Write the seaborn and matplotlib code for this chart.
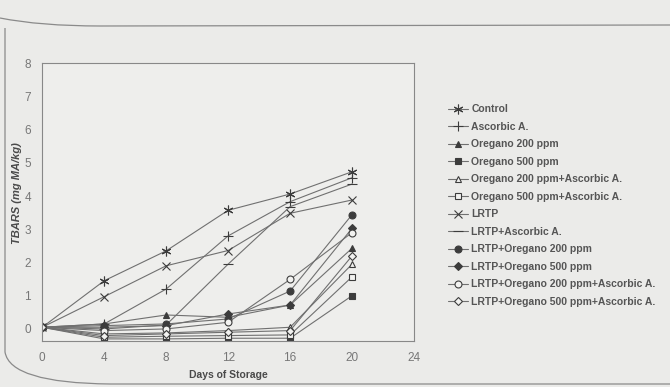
import numpy as np
import pandas as pd
import matplotlib
matplotlib.use("Agg")
import matplotlib.pyplot as plt
import seaborn as sns
from matplotlib.path import Path
from matplotlib.patches import PathPatch

sns.set_style("white")
plt.rcParams['font.family'] = ['Liberation Sans', 'DejaVu Sans']

days = [0, 4, 8, 12, 16, 20]

control = [0.05, 1.45, 2.35, 3.57, 4.06, 4.73]
ascorbic = [0.05, 0.15, 1.2, 2.8, 3.83, 4.55]
oreg200 = [0.05, 0.15, 0.42, 0.35, 0.72, 2.43]
oreg500 = [0.05, -0.3, -0.3, -0.28, -0.28, 1.0]
oreg200_aa = [0.05, -0.15, -0.12, -0.05, 0.05, 1.95]
oreg500_aa = [0.05, -0.25, -0.22, -0.2, -0.18, 1.57]
lrtp = [0.05, 0.97, 1.9, 2.36, 3.48, 3.88]
lrtp_aa = [0.05, 0.0, 0.12, 1.95, 3.68, 4.36]
lrtp_o200 = [0.05, 0.1, 0.15, 0.3, 1.14, 3.44]
lrtp_o500 = [0.05, 0.05, 0.1, 0.45, 0.72, 3.03]
lrtp_o200_aa = [0.05, -0.05, 0.0, 0.2, 1.49, 2.9]
lrtp_o500_aa = [0.05, -0.2, -0.15, -0.1, -0.05, 2.2]

names = ["Control", "Ascorbic A.", "Oregano 200 ppm", "Oregano 500 ppm",
         "Oregano 200 ppm+Ascorbic A.", "Oregano 500 ppm+Ascorbic A.",
         "LRTP", "LRTP+Ascorbic A.", "LRTP+Oregano 200 ppm",
         "LRTP+Oregano 500 ppm", "LRTP+Oregano 200 ppm+Ascorbic A.",
         "LRTP+Oregano 500 ppm+Ascorbic A."]
series = [control, ascorbic, oreg200, oreg500, oreg200_aa, oreg500_aa,
          lrtp, lrtp_aa, lrtp_o200, lrtp_o500, lrtp_o200_aa, lrtp_o500_aa]
# marker, filled?, size
styles = [((6, 2, 0), True, 7), ("+", True, 7), ("^", True, 5), ("s", True, 5),
          ("^", False, 5), ("s", False, 5), ("x", True, 6), ("_", True, 7),
          ("o", True, 5), ("D", True, 4), ("o", False, 5), ("D", False, 4)]

bg = "#ebebe9"
line_c = "#707070"
mark_c = "#3c3c3c"

fig = plt.figure(figsize=(6.7, 3.87), dpi=100, facecolor=bg)
ax = fig.add_axes([0.063, 0.12, 0.555, 0.717])
ax.set_facecolor("#eeeeec")

for name, vals, (m, filled, ms) in zip(names, series, styles):
    df = pd.DataFrame({"day": days, "tbars": vals})
    sns.lineplot(data=df, x="day", y="tbars", ax=ax, color=line_c, lw=0.8,
                 marker=m, markersize=ms, markeredgecolor=mark_c,
                 markerfacecolor=mark_c if filled else "#f2f2f0",
                 markeredgewidth=0.8, label=name)

ax.set_xlim(0, 24)
ax.set_ylim(-0.35, 8)
ax.set_xticks(range(0, 25, 4))
ax.set_yticks(range(0, 9))
ax.tick_params(length=0, labelsize=8.5, labelcolor="#777777", pad=8)
for s in ax.spines.values():
    s.set_color("#888888")
    s.set_linewidth(0.8)

ax.set_xlabel("Days of Storage", fontsize=7.5, fontweight="bold", color="#4a4a4a")
ax.set_ylabel("TBARS (mg MA/kg)", fontsize=8, fontweight="bold", style="italic",
              color="#4a4a4a")
ax.yaxis.set_label_coords(-0.055, 0.53)
ax.xaxis.set_label_coords(0.5, -0.105)

handles, labels = ax.get_legend_handles_labels()
ax.legend_.remove()
fig.legend(handles, labels, loc="upper left", bbox_to_anchor=(0.655, 0.755),
           frameon=False, handlelength=1.9, handletextpad=0.3,
           labelspacing=0.72, labelcolor="#555555",
           prop={"weight": "bold", "size": 7.5})

# page outline of the scanned panel
W, H = 670.0, 387.0
verts = [(0 / W, 1 - 18 / H), (40 / W, 1 - 26 / H), (100 / W, 1 - 26 / H), (W / W, 1 - 25 / H)]
codes = [Path.MOVETO, Path.CURVE3, Path.CURVE3, Path.LINETO]
fig.add_artist(PathPatch(Path(verts, codes), transform=fig.transFigure,
                         fill=False, ec="#8a8a8a", lw=0.9))
verts = [(5 / W, 1 - 28 / H), (5 / W, 1 - 352 / H), (10 / W, 1 - 383 / H),
         (110 / W, 1 - 384 / H), (W / W, 1 - 384 / H)]
codes = [Path.MOVETO, Path.LINETO, Path.CURVE3, Path.CURVE3, Path.LINETO]
fig.add_artist(PathPatch(Path(verts, codes), transform=fig.transFigure,
                         fill=False, ec="#8a8a8a", lw=0.9))

fig.savefig("out.png", dpi=100, facecolor=bg)
